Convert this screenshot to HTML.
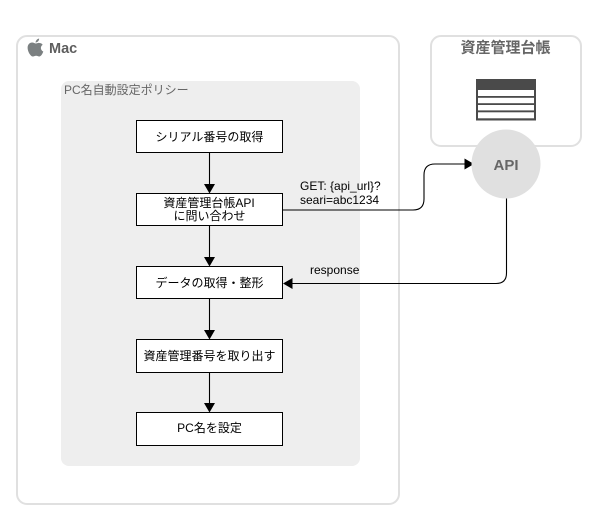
<!DOCTYPE html>
<html><head><meta charset="utf-8">
<style>
html,body{margin:0;padding:0;background:#fff;width:604px;height:530px;overflow:hidden}
svg{display:block}
text{font-family:"Liberation Sans","Noto Sans CJK JP",sans-serif}
</style></head><body>
<svg width="604" height="530" viewBox="0 0 604 530" xmlns="http://www.w3.org/2000/svg">
<rect x="17" y="36" width="382" height="468" rx="10" fill="#fff" stroke="#e0e0e0" stroke-width="2"/>
<rect x="431" y="36" width="150" height="110" rx="10" fill="#fff" stroke="#e0e0e0" stroke-width="2"/>
<rect x="61" y="81" width="299" height="385" rx="8" fill="#eeeeee"/>
<path d="M35.500 42.500c.3-2 1.600-3.600 3.600-4 .2 2.100-1.500 3.800-3.600 4zM39.500 43c1.100 0 2.400.6 3.200 1.700-2.700 1.700-2.300 5.500.6 6.800-.8 2.300-2.300 5-4 5-1.200 0-1.800-.8-3.200-.8s-2 .8-3.200.8c-2.300 0-5.300-5-5.300-8.800 0-3.300 2.200-5.200 4.500-5.200 1.500 0 2.800 1 3.800 1s2-1 3.600-.5z" fill="#7b8081"/>
<text x="49" y="53" font-size="14.500" font-weight="bold" fill="#5e5e5e">Mac</text>
<text x="64" y="94" font-size="12" fill="#666">PC名自動設定ポリシー</text>
<text x="505.500" y="52.500" font-size="15" font-weight="bold" fill="#666" text-anchor="middle">資産管理台帳</text>
<g fill="#fff" stroke="#000" stroke-width="1">
<rect x="136.500" y="120.500" width="146" height="32"/>
<rect x="136.500" y="193.500" width="146" height="32"/>
<rect x="136.500" y="266.500" width="146" height="32"/>
<rect x="136.500" y="339.500" width="146" height="33"/>
<rect x="136.500" y="412.500" width="146" height="33"/>
</g>
<g fill="none" stroke="#000" stroke-width="1.100">
<path d="M209.500 153V184M209.500 226V257M209.500 299V330M209.500 373V403"/>
<path d="M283 210H413Q424 210 424 199V175Q424 164 435 164H466"/>
<path d="M506.500 198V273Q506.500 283.500 496 283.500H291"/>
</g>
<g fill="#000">
<path d="M204 184h11l-5.500 9.500zM204 257h11l-5.500 9.500zM204 330h11l-5.500 9.500zM204 403h11l-5.500 9.500z"/>
<path d="M464.500 158.500l9.500 5.500-9.500 5.500zM292.500 278l-9.500 5.500 9.500 5.500z"/>
</g>
<g font-size="12" fill="#000" text-anchor="middle">
<text x="209.500" y="141">シリアル番号の取得</text>
<text x="209" y="207">資産管理台帳API</text>
<text x="209.500" y="220">に問い合わせ</text>
<text x="209.500" y="287">データの取得・整形</text>
<text x="209.500" y="360">資産管理番号を取り出す</text>
<text x="209.500" y="432">PC名を設定</text>
</g>
<g font-size="12" fill="#000">
<text x="300" y="190">GET: {api_url}?</text>
<text x="300" y="204">seari=abc1234</text>
<text x="310" y="274">response</text>
</g>
<circle cx="506" cy="164" r="34.500" fill="#e0e0e0"/>
<text x="506" y="170" font-size="15" font-weight="bold" fill="#666" text-anchor="middle">API</text>
<rect x="476" y="79" width="60" height="41.500" fill="#4a4a4a"/>
<g fill="#fff">
<rect x="478" y="90" width="56" height="6"/>
<rect x="478" y="97.800" width="56" height="5.400"/>
<rect x="478" y="105" width="56" height="5.400"/>
<rect x="478" y="112.300" width="56" height="6"/>
</g>
</svg>
</body></html>
